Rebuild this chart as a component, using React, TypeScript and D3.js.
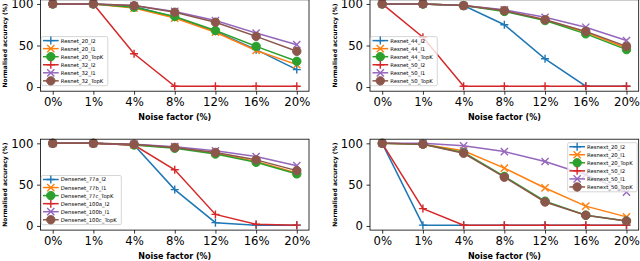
import React, { useEffect, useRef } from 'react';
import * as d3 from 'd3';

const noiseLevels = ['0%', '1%', '4%', '8%', '12%', '16%', '20%'];
const yTickValues = [0, 50, 100];

// panel 1 - Resnet 20 / 32
const resnetSmallNames = ['Resnet_20_l2', 'Resnet_20_l1', 'Resnet_20_TopK', 'Resnet_32_l2', 'Resnet_32_l1', 'Resnet_32_TopK'];
const resnet20L2 = [100, 100, 97, 84, 67, 45, 21];
const resnet20L1 = [100, 100, 95, 83, 66, 44, 27];
const resnet20TopK = [100, 100, 96, 85, 68, 49, 31];
const resnet32L2 = [100, 100, 40, 1, 1, 1, 1];
const resnet32L1 = [100, 100, 98, 91, 80, 65, 51];
const resnet32TopK = [100, 100, 98, 90, 78, 61, 43];

// panel 2 - Resnet 44 / 50
const resnetLargeNames = ['Resnet_44_l2', 'Resnet_44_l1', 'Resnet_44_TopK', 'Resnet_50_l2', 'Resnet_50_l1', 'Resnet_50_TopK'];
const resnet44L2 = [100, 100, 98, 75, 34, 1, 1];
const resnet44L1 = [100, 100, 98, 92, 81, 66, 47];
const resnet44TopK = [100, 100, 98, 91, 80, 64, 45];
const resnet50L2 = [100, 60, 1, 1, 1, 1, 1];
const resnet50L1 = [100, 100, 98, 93, 84, 72, 56];
const resnet50TopK = [100, 100, 98, 92, 81, 67, 49];

// panel 3 - Densenet
const densenetNames = ['Densenet_77a_l2', 'Densenet_77b_l1', 'Densenet_77c_TopK', 'Densenet_100a_l2', 'Densenet_100b_l1', 'Densenet_100c_TopK'];
const densenet77aL2 = [100, 100, 98, 44, 4, 1, 1];
const densenet77bL1 = [100, 100, 98, 95, 88, 78, 64];
const densenet77cTopK = [100, 100, 98, 94, 87, 77, 63];
const densenet100aL2 = [100, 100, 98, 68, 14, 2, 1];
const densenet100bL1 = [100, 100, 99, 96, 91, 84, 73];
const densenet100cTopK = [100, 100, 99, 95, 89, 80, 67];

// panel 4 - Resnext
const resnextNames = ['Resnext_20_l2', 'Resnext_20_l1', 'Resnext_20_TopK', 'Resnext_50_l2', 'Resnext_50_l1', 'Resnext_50_TopK'];
const resnext20L2 = [100, 1, 1, 1, 1, 1, 1];
const resnext20L1 = [100, 99, 91, 70, 46, 24, 11];
const resnext20TopK = [100, 99, 89, 60, 30, 13, 6];
const resnext50L2 = [100, 21, 1, 1, 1, 1, 1];
const resnext50L1 = [100, 100, 97, 90, 78, 62, 41];
const resnext50TopK = [100, 99, 88, 59, 29, 13, 6];

const panels = [
  { names: resnetSmallNames, series: [resnet20L2, resnet20L1, resnet20TopK, resnet32L2, resnet32L1, resnet32TopK], legend: 'lower left' },
  { names: resnetLargeNames, series: [resnet44L2, resnet44L1, resnet44TopK, resnet50L2, resnet50L1, resnet50TopK], legend: 'lower left' },
  { names: densenetNames, series: [densenet77aL2, densenet77bL1, densenet77cTopK, densenet100aL2, densenet100bL1, densenet100cTopK], legend: 'lower left' },
  { names: resnextNames, series: [resnext20L2, resnext20L1, resnext20TopK, resnext50L2, resnext50L1, resnext50TopK], legend: 'upper right' },
];

const colors = ['#1f77b4', '#ff7f0e', '#2ca02c', '#d62728', '#9467bd', '#8c564b'];
const markers = ['plus', 'cross', 'circle', 'plus', 'cross', 'circle'];

// axes frames in pixels
const frames = [
  { left: 40.5, right: 309, top: -0.2, bottom: 91.2 },
  { left: 370, right: 638.7, top: -0.2, bottom: 91.2 },
  { left: 40.5, right: 309, top: 139.2, bottom: 230.1 },
  { left: 370, right: 638.7, top: 139.2, bottom: 230.1 },
];

const FONT = 'DejaVu Sans';

function drawMarker(g: any, kind: string, x: number, y: number, color: string) {
  if (kind === 'circle') {
    g.append('circle').attr('cx', x).attr('cy', y).attr('r', 4.2).attr('fill', color).attr('stroke', color).attr('stroke-width', 1);
  } else if (kind === 'plus') {
    const s = 4;
    g.append('path').attr('d', `M${x - s},${y}H${x + s}M${x},${y - s}V${y + s}`).attr('stroke', color).attr('stroke-width', 1.4).attr('fill', 'none');
  } else {
    const s = 3.6;
    g.append('path').attr('d', `M${x - s},${y - s}L${x + s},${y + s}M${x - s},${y + s}L${x + s},${y - s}`).attr('stroke', color).attr('stroke-width', 1.4).attr('fill', 'none');
  }
}

function App() {
  const ref = useRef<SVGSVGElement>(null);

  useEffect(() => {
    const svg = d3.select(ref.current);
    svg.selectAll('*').remove();

    panels.forEach((panel, pi) => {
      const f = frames[pi];
      const g = svg.append('g');

      const x = d3.scalePoint<string>().domain(noiseLevels).range([f.left, f.right]).padding(0.3);
      const y = d3.scaleLinear().domain([-5, 105]).range([f.bottom, f.top]);

      // lines + markers
      panel.series.forEach((vals, si) => {
        const line = d3.line<number>().x((_, i) => x(noiseLevels[i]) as number).y(d => y(d));
        g.append('path').attr('d', line(vals)).attr('fill', 'none').attr('stroke', colors[si]).attr('stroke-width', 1.5);
        vals.forEach((v, i) => drawMarker(g, markers[si], x(noiseLevels[i]) as number, y(v), colors[si]));
      });

      // frame
      g.append('rect').attr('x', f.left).attr('y', f.top).attr('width', f.right - f.left).attr('height', f.bottom - f.top)
        .attr('fill', 'none').attr('stroke', '#000').attr('stroke-width', 0.8);

      // x axis
      const xAxis = g.append('g').attr('transform', `translate(0,${f.bottom})`)
        .call(d3.axisBottom(x).tickSize(3.5).tickPadding(3));
      xAxis.select('.domain').remove();
      xAxis.selectAll('line').attr('stroke-width', 0.8);
      xAxis.selectAll('text').attr('font-family', FONT).attr('font-size', 11.7).attr('fill', '#000');

      // y axis
      const yAxis = g.append('g').attr('transform', `translate(${f.left},0)`)
        .call(d3.axisLeft(y).tickValues(yTickValues).tickSize(3.5).tickPadding(3.5));
      yAxis.select('.domain').remove();
      yAxis.selectAll('line').attr('stroke-width', 0.8);
      yAxis.selectAll('text').attr('font-family', FONT).attr('font-size', 11.7).attr('fill', '#000');

      // axis labels
      g.append('text').attr('x', (f.left + f.right) / 2).attr('y', f.bottom + 26).attr('text-anchor', 'middle')
        .attr('dominant-baseline', 'central').attr('font-family', FONT).attr('font-weight', 'bold').attr('font-size', 8)
        .text('Noise factor (%)');
      g.append('text').attr('transform', `translate(${f.left - 36},${(f.top + f.bottom) / 2}) rotate(-90)`)
        .attr('text-anchor', 'middle').attr('dominant-baseline', 'central').attr('font-family', FONT)
        .attr('font-weight', 'bold').attr('font-size', 6).text('Normalised accuracy (%)');

      // legend
      const rowH = 8.05;
      const boxH = rowH * 6 + 0.8;
      const lg = g.append('g');
      const box = lg.append('rect').attr('fill', 'white').attr('fill-opacity', 0.8).attr('stroke', '#cccccc')
        .attr('stroke-width', 0.8).attr('rx', 1.5);
      let maxText = 0;
      panel.names.forEach((name, si) => {
        const cy = 3.4 + si * rowH;
        lg.append('line').attr('x1', 1.7).attr('x2', 17.4).attr('y1', cy).attr('y2', cy)
          .attr('stroke', colors[si]).attr('stroke-width', 1.5);
        drawMarker(lg, markers[si], 9.5, cy, colors[si]);
        const t = lg.append('text').attr('x', 19.4).attr('y', cy).attr('dominant-baseline', 'central')
          .attr('font-family', FONT).attr('font-size', 5.3).attr('fill', '#000').text(name);
        const w = (t.node() as SVGTextElement).getComputedTextLength();
        maxText = Math.max(maxText, w);
      });
      const boxW = 19.4 + maxText + 4.5;
      box.attr('x', 0).attr('y', -0.6).attr('width', boxW).attr('height', boxH);
      let bx: number, by: number;
      if (panel.legend === 'upper right') {
        bx = f.right - 1.5 - boxW;
        by = f.top + 4.1;
      } else {
        bx = f.left + 0.8;
        by = f.bottom - 5.5 - boxH + 0.6;
      }
      lg.attr('transform', `translate(${bx},${by})`);
    });
  }, []);

  return (
    <svg ref={ref} width={640} height={261} style={{ position: 'absolute', left: 0, top: 0, background: '#fff' }} />
  );
}

export default App;
